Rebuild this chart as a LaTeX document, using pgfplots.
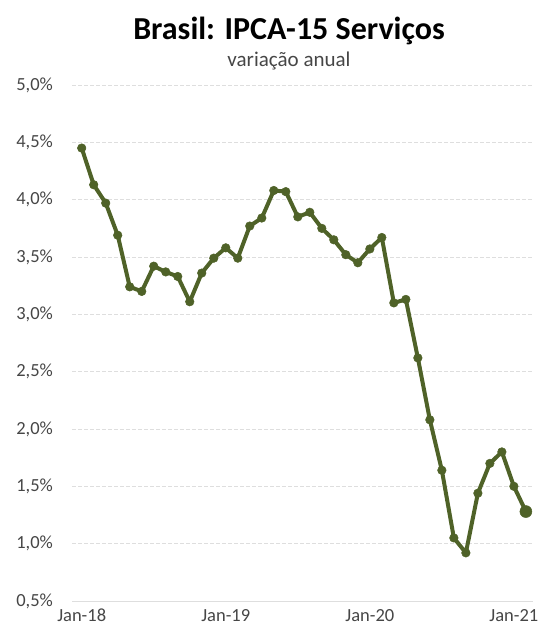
\documentclass[border=0pt]{standalone}
\usepackage{pgfplots}
\pgfplotsset{compat=1.18}
\usepackage{fontspec}
\setmainfont{Carlito}
\definecolor{linegreen}{RGB}{79,98,40}
\definecolor{gridgray}{RGB}{222,222,222}
\definecolor{ticktext}{RGB}{70,70,70}
\begin{document}
\begin{tikzpicture}
\useasboundingbox (0,0) rectangle (543pt,637pt);
\node[anchor=base, font=\fontsize{32}{36}\selectfont\bfseries] at (289pt,597pt) {Brasil: IPCA-15 Serviços};
\node[anchor=base, font=\fontsize{21}{25}\selectfont, text=ticktext] at (289pt,570pt) {variação anual};
\begin{axis}[
  at={(72.1pt,36pt)}, anchor=south west,
  scale only axis, width=461pt, height=516pt,
  xmin=-0.8, xmax=37.6, ymin=0.5, ymax=5.0,
  axis x line*=bottom, axis y line*=left,
  x axis line style={-, draw=gridgray, line width=1pt},
  y axis line style={draw=none},
  major tick length=0pt,
  xtick={0,12,24,36}, xticklabels={Jan-18,Jan-19,Jan-20,Jan-21},
  ytick={0.5,1,1.5,2,2.5,3,3.5,4,4.5,5},
  yticklabels={{0,5\%},{1,0\%},{1,5\%},{2,0\%},{2,5\%},{3,0\%},{3,5\%},{4,0\%},{4,5\%},{5,0\%}},
  ymajorgrids, grid style={draw=gridgray, line width=0.8pt, dash pattern=on 4pt off 2pt},
  tick label style={font=\fontsize{18.5}{22}\selectfont, text=ticktext},
  yticklabel style={inner sep=0pt, xshift=-19pt},
  xticklabel style={inner sep=0pt, yshift=-8pt},
]
\addplot[linegreen, line width=4pt, line join=round, mark=*, mark size=4.3pt, mark options={solid, fill=linegreen, draw=linegreen, line width=0.5pt}] coordinates {
(0,4.45) (1,4.13) (2,3.97) (3,3.69) (4,3.24) (5,3.20) (6,3.42) (7,3.37) (8,3.33) (9,3.11)
(10,3.36) (11,3.49) (12,3.58) (13,3.49) (14,3.77) (15,3.84) (16,4.08) (17,4.07) (18,3.85) (19,3.89)
(20,3.75) (21,3.65) (22,3.52) (23,3.45) (24,3.57) (25,3.67) (26,3.10) (27,3.13) (28,2.62) (29,2.08)
(30,1.64) (31,1.05) (32,0.92) (33,1.44) (34,1.70) (35,1.80) (36,1.50) (37,1.28)
};
\addplot[only marks, mark=*, mark size=6pt, mark options={solid, fill=linegreen, draw=linegreen, line width=0.5pt}] coordinates {(37,1.28)};
\end{axis}
\end{tikzpicture}
\end{document}
